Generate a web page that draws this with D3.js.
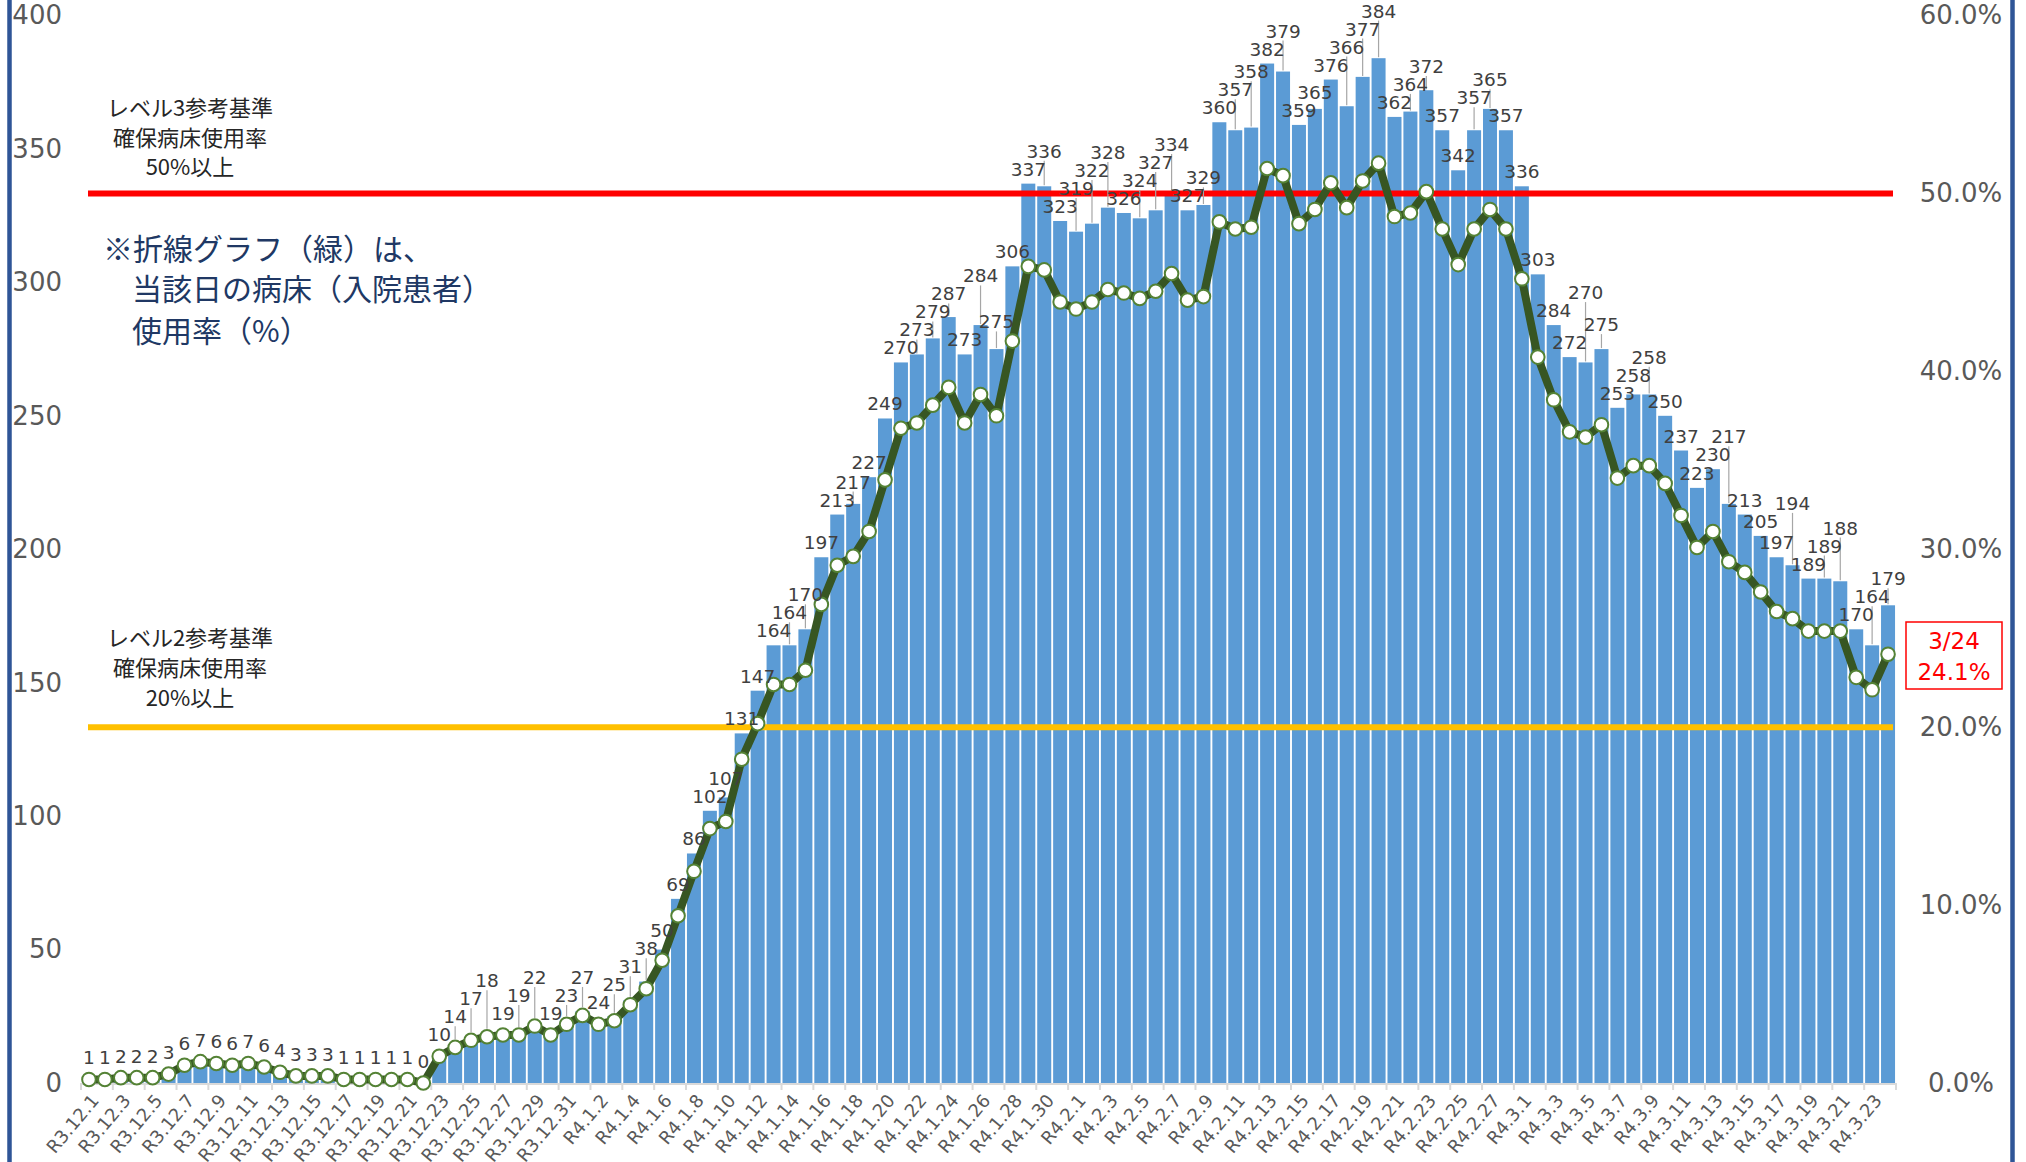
<!DOCTYPE html>
<html>
<head>
<meta charset="utf-8">
<script src="https://cdn.jsdelivr.net/npm/d3@7"></script>
<style>
  html, body { margin: 0; padding: 0; background: #ffffff; }
  svg { display: block; }
</style>
</head>
<body>
<svg id="chart" width="2026" height="1162"></svg>
<script>
// ---------- data ----------
const dates = [
  "R3.12.1","R3.12.2","R3.12.3","R3.12.4","R3.12.5","R3.12.6","R3.12.7","R3.12.8","R3.12.9","R3.12.10",
  "R3.12.11","R3.12.12","R3.12.13","R3.12.14","R3.12.15","R3.12.16","R3.12.17","R3.12.18","R3.12.19","R3.12.20",
  "R3.12.21","R3.12.22","R3.12.23","R3.12.24","R3.12.25","R3.12.26","R3.12.27","R3.12.28","R3.12.29","R3.12.30","R3.12.31",
  "R4.1.1","R4.1.2","R4.1.3","R4.1.4","R4.1.5","R4.1.6","R4.1.7","R4.1.8","R4.1.9","R4.1.10",
  "R4.1.11","R4.1.12","R4.1.13","R4.1.14","R4.1.15","R4.1.16","R4.1.17","R4.1.18","R4.1.19","R4.1.20",
  "R4.1.21","R4.1.22","R4.1.23","R4.1.24","R4.1.25","R4.1.26","R4.1.27","R4.1.28","R4.1.29","R4.1.30","R4.1.31",
  "R4.2.1","R4.2.2","R4.2.3","R4.2.4","R4.2.5","R4.2.6","R4.2.7","R4.2.8","R4.2.9","R4.2.10",
  "R4.2.11","R4.2.12","R4.2.13","R4.2.14","R4.2.15","R4.2.16","R4.2.17","R4.2.18","R4.2.19","R4.2.20",
  "R4.2.21","R4.2.22","R4.2.23","R4.2.24","R4.2.25","R4.2.26","R4.2.27","R4.2.28",
  "R4.3.1","R4.3.2","R4.3.3","R4.3.4","R4.3.5","R4.3.6","R4.3.7","R4.3.8","R4.3.9","R4.3.10",
  "R4.3.11","R4.3.12","R4.3.13","R4.3.14","R4.3.15","R4.3.16","R4.3.17","R4.3.18","R4.3.19","R4.3.20",
  "R4.3.21","R4.3.22","R4.3.23","R4.3.24"
];

// inpatients (bars, left axis)
const inpatients = [
  1,1,2,2,2,3,6,7,6,6,7,6,4,3,3,3,1,1,1,1,1,0,10,14,17,18,19,19,22,19,23,
  27,24,25,31,38,50,69,86,102,107,131,147,164,164,170,197,213,217,227,249,270,273,279,287,273,284,275,306,337,336,323,
  319,322,328,326,324,327,334,327,329,360,357,358,382,379,359,365,376,366,377,384,362,364,372,357,342,357,365,357,
  336,303,284,272,270,275,253,258,258,250,237,223,230,217,213,205,197,194,189,189,188,170,164,179
];

// bed usage rate % (line, right axis)
const usageRate = [
  0.2,0.2,0.3,0.3,0.3,0.5,1.0,1.2,1.1,1.0,1.1,0.9,0.6,0.4,0.4,0.4,0.2,0.2,0.2,0.2,0.2,0.0,1.5,2.0,2.4,2.6,2.7,2.7,3.2,2.7,3.3,
  3.8,3.3,3.5,4.4,5.3,6.9,9.4,11.9,14.3,14.7,18.2,20.2,22.4,22.4,23.2,26.9,29.1,29.6,31.0,33.9,36.8,37.1,38.1,39.1,37.1,38.7,37.5,41.7,45.9,45.7,43.9,
  43.5,43.9,44.6,44.4,44.1,44.5,45.5,44.0,44.2,48.4,48.0,48.1,51.4,51.0,48.3,49.1,50.6,49.2,50.7,51.7,48.7,48.9,50.1,48.0,46.0,48.0,49.1,48.0,
  45.2,40.8,38.4,36.6,36.3,37.0,34.0,34.7,34.7,33.7,31.9,30.1,31.0,29.3,28.7,27.6,26.5,26.1,25.4,25.4,25.4,22.8,22.1,24.1
];

const leftTicks = [0,50,100,150,200,250,300,350,400];
const rightTicks = [0,10,20,30,40,50,60];
const thresholds = [50, 20];            // reference lines (%)
const level3Text = ["レベル3参考基準","確保病床使用率","50%以上"];
const level2Text = ["レベル2参考基準","確保病床使用率","20%以上"];
const noteText = ["※折線グラフ（緑）は、","当該日の病床（入院患者）","使用率（%）"];
const calloutText = ["3/24","24.1%"];

// ---------- layout ----------
const svg = d3.select("#chart");
const baseY = 1083, topY = 15.5;
const NUM_FONT = "'DejaVu Sans', sans-serif";
const JP_FONT = "'Noto Sans CJK JP', sans-serif";
const LABEL_SIZE = 18.5;

const x = d3.scaleBand().domain(dates).range([81, 1896]).paddingInner(0.12).paddingOuter(0.06);
const yL = d3.scaleLinear().domain([0, 400]).range([baseY, topY]);
const yR = d3.scaleLinear().domain([0, 60]).range([baseY, topY]);
const bw = x.bandwidth();
const cx = d => x(d) + bw / 2;

svg.append("rect").attr("width", 2026).attr("height", 1162).attr("fill", "#fff");

// outer frame
svg.append("rect").attr("x", 9.5).attr("y", -30).attr("width", 2003).attr("height", 1230)
  .attr("rx", 20).attr("fill", "none").attr("stroke", "#2F5597").attr("stroke-width", 4.5);

// bars
svg.append("g").selectAll("rect").data(dates).join("rect")
  .attr("x", d => x(d)).attr("width", bw)
  .attr("y", (d, i) => yL(inpatients[i]))
  .attr("height", (d, i) => baseY - yL(inpatients[i]))
  .attr("fill", "#5B9BD5");

// x axis
const xAxisG = svg.append("g");
xAxisG.append("line").attr("x1", 81).attr("x2", 1896).attr("y1", baseY + 1).attr("y2", baseY + 1)
  .attr("stroke", "#D9D9D9").attr("stroke-width", 2);
const labeled = dates.filter((d, i) => i % 2 === 0);
const gap = x.step() - bw;
xAxisG.selectAll("line.tick").data(labeled.concat([null])).join("line").attr("class", "tick")
  .attr("x1", d => d === null ? 1896 : x(d) - gap / 2)
  .attr("x2", d => d === null ? 1896 : x(d) - gap / 2)
  .attr("y1", baseY).attr("y2", baseY + 7)
  .attr("stroke", "#D9D9D9").attr("stroke-width", 2);
xAxisG.selectAll("text").data(labeled).join("text")
  .attr("transform", d => `translate(${cx(d) + 6},${baseY + 14}) rotate(-50)`)
  .attr("text-anchor", "end").attr("dy", "0.35em")
  .attr("font-family", NUM_FONT).attr("font-size", 18).attr("fill", "#595959")
  .text(d => d);

// left axis
const lAxis = svg.append("g").attr("transform", "translate(62,0)")
  .call(d3.axisLeft(yL).tickValues(leftTicks).tickSize(0).tickPadding(0));
lAxis.select(".domain").remove();
lAxis.selectAll("text").attr("font-family", NUM_FONT).attr("font-size", 26).attr("fill", "#595959");

// right axis
const rAxis = svg.append("g").attr("transform", "translate(1961,0)")
  .call(d3.axisRight(yR).tickValues(rightTicks).tickSize(0).tickPadding(0).tickFormat(d => d3.format(".1f")(d) + "%"));
rAxis.select(".domain").remove();
rAxis.selectAll("text").attr("font-family", NUM_FONT).attr("font-size", 26).attr("fill", "#595959")
  .attr("text-anchor", "middle");

// threshold lines
const thColors = ["#FF0000", "#FFC000"];
svg.append("g").selectAll("line").data(thresholds).join("line")
  .attr("x1", 88).attr("x2", 1893)
  .attr("y1", d => yR(d)).attr("y2", d => yR(d))
  .attr("stroke", (d, i) => thColors[i]).attr("stroke-width", 6);

// line series
const lineGen = d3.line().x((d, i) => cx(dates[i])).y(d => yR(d));
svg.append("path").datum(usageRate).attr("d", lineGen)
  .attr("fill", "none").attr("stroke", "#375623").attr("stroke-width", 8)
  .attr("stroke-linejoin", "round");
svg.append("g").selectAll("circle").data(usageRate).join("circle")
  .attr("cx", (d, i) => cx(dates[i])).attr("cy", d => yR(d)).attr("r", 6.8)
  .attr("fill", "#fff").attr("stroke", "#548235").attr("stroke-width", 2);

// value labels with simple collision avoidance (stagger upward, leader lines)
const digitW = 0.66 * LABEL_SIZE, lblH = 17;
const placed = [];
inpatients.forEach((v, i) => {
  const xc = cx(dates[i]);
  const anchorY = Math.min(yL(v), yR(usageRate[i]) - 7);
  const w = String(v).length * digitW;
  let y = anchorY - 8;
  let moved = true;
  while (moved) {
    moved = false;
    for (let k = Math.max(0, placed.length - 5); k < placed.length; k++) {
      const p = placed[k];
      if (Math.abs(p.x - xc) < (p.w + w) / 2 + 1 && Math.abs(p.y - y) < lblH) {
        y = p.y - lblH - 1;
        moved = true;
      }
    }
  }
  placed.push({ x: xc, y: y, w: w, v: v, top: anchorY });
});
const lblG = svg.append("g");
lblG.selectAll("line").data(placed.filter(p => p.top - p.y > 14)).join("line")
  .attr("x1", p => p.x).attr("x2", p => p.x)
  .attr("y1", p => p.y + 3).attr("y2", p => p.top - 1)
  .attr("stroke", "#A6A6A6").attr("stroke-width", 1.2);
lblG.selectAll("text").data(placed).join("text")
  .attr("x", p => p.x).attr("y", p => p.y)
  .attr("text-anchor", "middle")
  .attr("font-family", NUM_FONT).attr("font-size", LABEL_SIZE).attr("fill", "#404040")
  .text(p => p.v);

// annotations
function block(lines, xc, ys, size, color, anchor, xs) {
  svg.append("g").selectAll("text").data(lines).join("text")
    .attr("x", (d, i) => xs ? xs[i] : xc).attr("y", (d, i) => ys[i])
    .attr("dy", "0.35em").attr("text-anchor", anchor)
    .attr("font-family", JP_FONT).attr("font-size", size).attr("fill", color)
    .text(d => d);
}
block(level3Text, 190, [108.5, 138, 167], 22, "#262626", "middle");
block(level2Text, 190, [638, 668, 698], 22, "#262626", "middle");
block(noteText, 0, [249, 289, 331], 30, "#203864", "start", [103, 132, 132]);

// callout
svg.append("rect").attr("x", 1906).attr("y", 622).attr("width", 96).attr("height", 67)
  .attr("fill", "#fff").attr("stroke", "#FF0000").attr("stroke-width", 1.5);
svg.append("g").selectAll("text").data(calloutText).join("text")
  .attr("x", 1954).attr("y", (d, i) => [641, 672][i]).attr("dy", "0.35em")
  .attr("text-anchor", "middle").attr("font-family", NUM_FONT).attr("font-size", 23)
  .attr("fill", "#FF0000").text(d => d);
</script>
</body>
</html>
